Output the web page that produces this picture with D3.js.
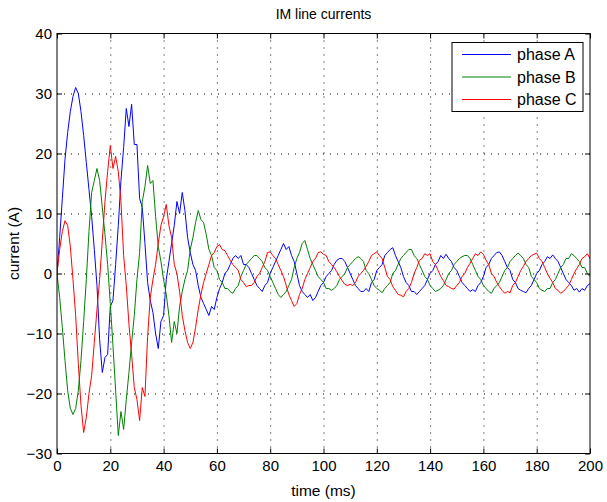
<!DOCTYPE html>
<html>
<head>
<meta charset="utf-8">
<script src="https://cdn.jsdelivr.net/npm/d3@7/dist/d3.min.js"></script>
<style>
  body { margin: 0; background: #fff; }
  svg { display: block; font-family: "Liberation Sans", Arial, Helvetica, sans-serif; }
  .grid line { stroke: #000; stroke-dasharray: 1,6; stroke-width: 1; }
  .line { fill: none; stroke-width: 1; }
</style>
</head>
<body>
<svg id="chart" width="607" height="502"></svg>
<script>
// sample times (ms), one reading per millisecond
const timeMs = d3.range(0, 201);

const phaseA = [
  0, 6, 12.5, 19, 23.5, 27, 29.5, 31, 30, 27,
  23, 18.5, 14, 9.5, 4, -2, -11, -16.5, -14, -13.5,
  -5.5, -4.5, 1.5, 8, 15.5, 21, 27.5, 24.5, 28.2, 21.5,
  21.5, 12.5, 11, 5, -1.5, -4.5, -6.5, -10, -12.5, -8,
  -7, -1, 2, 5, 8, 12, 10, 13.5, 10.5, 6,
  3.5, 1.5, 0.5, -2, -4, -5, -6, -7, -5.5, -6,
  -4, -2.5, -1.5, 0, 0.5, 1.5, 2.5, 3, 2.5, 3,
  1.5, 1.5, 1, 0, -1, -2, -2.5, -3, -2, -1.5,
  0, 1, 2, 3, 4, 5, 4, 4.5, 3, 2,
  0, -2, -3, -3.5, -4, -3.5, -4.5, -4, -3, -2,
  -1.5, -0.5, 0, 0.5, 1.5, 2.2, 2.5, 2.5, 2, 1,
  0, -1, -2, -2.5, -3, -3, -2.5, -3, -1.5, -1,
  0.5, 1, 1.5, 3, 3.5, 4, 4.3, 3, 2, 1,
  -0.5, -1.5, -2, -3, -3, -3.5, -3, -2.5, -2, -1,
  0, 0.5, 1.5, 2, 3, 2.5, 3.2, 2.5, 2, 1,
  0.5, -0.5, -1.5, -2, -2.5, -3, -2.7, -3, -2, -1.5,
  -0.5, 1, 1.5, 2.5, 3, 3.5, 3.6, 3, 2, 1,
  0.5, -1, -1.5, -2.5, -2.8, -3, -3.2, -2.5, -2, -1,
  0, 0.5, 1.5, 2, 2.8, 2.5, 3.1, 2.5, 2, 1,
  0, -1, -1.5, -2, -2.8, -2.5, -3.1, -2.5, -2.8, -2,
  -1.7
];

const phaseB = [
  0, -4, -9, -14.5, -19.5, -22.5, -23.5, -22.5, -19.5, -14.5,
  -8, -1, 7, 13.5, 15.5, 17.5, 15.5, 11, 6.5, 1.5,
  -5, -12, -19.5, -27, -23, -26, -21, -16.5, -11.5, -7,
  -1, 3.5, 12, 14.5, 18, 15, 15.5, 9.5, 4.5, 2,
  -1, -3.5, -7, -11.5, -8, -10, -5.5, -3, -1, 0.5,
  4, 6, 8.5, 10.5, 9, 8.5, 6.5, 4, 3, 1,
  0.5, -1, -1.5, -2.5, -2.5, -3, -3.3, -2.5, -2, -0.5,
  0.5, 1.5, 2, 2.5, 3, 3, 2.5, 2, 1, 0.5,
  -0.5, -1.5, -2.5, -3.5, -4, -3.5, -3, -2, -1, 1,
  2.5, 3.5, 5, 5.5, 4, 2.5, 1.5, 0.5, -0.5, -1,
  -1.5, -2.5, -2.5, -2.8, -2.5, -2, -1, -0.5, 0, 1,
  1.5, 2, 2.5, 2.8, 2.5, 2, 0.5, 0, -1, -2,
  -2.5, -2.8, -3.2, -2.5, -2, -1.5, 0, 0.5, 1.5, 2.5,
  3, 3.5, 4, 4, 3, 2.5, 1.5, 0.5, -0.5, -1,
  -2, -2.5, -3, -2.8, -2.5, -2, -1, 0, 0.5, 1.5,
  2, 2.5, 2.8, 3, 3, 2.5, 1.5, 0.5, -0.5, -1,
  -2, -2.5, -3, -3.3, -2.5, -2, -1.5, -0.5, 0.5, 1,
  2, 2.5, 3, 3.4, 3, 2.5, 1.5, 1, -0.5, -1,
  -1.5, -2.5, -2.8, -3, -2.5, -2.5, -1.5, -1, 0, 1,
  1.5, 2.5, 2.5, 3.3, 3, 2.5, 2, 1, 1, 0,
  -0.5
];

const phaseC = [
  0, 4, 7, 8.8, 8, 4.5, -1, -7, -15, -22,
  -26.5, -24, -20, -17, -11.5, -6, -1, 5.5, 12, 17,
  21.3, 17.5, 19.5, 17, 12, 3, -2, -8.5, -13.5, -19,
  -21, -24.5, -19, -20.5, -10.5, -4, -1, 1.5, 5, 8,
  9.5, 11.5, 8, 6, 1.5, 0, -3, -7, -9.5, -11.5,
  -12.5, -11.5, -9, -6, -3.5, -1.5, 0, 1.5, 3, 3.5,
  4.5, 4.8, 4, 3.8, 3, 2.2, 1.5, 1, 0.5, -1,
  -1.5, -2.2, -2, -2, -1.5, -0.5, 0, 1, 2, 3.5,
  3.6, 3, 2.5, 1.5, 0.5, -0.5, -2, -3.5, -4.5, -5.5,
  -5, -3.5, -2.5, -1, 0, 1, 2, 2.5, 3.5, 3.6,
  3.2, 3, 2, 1.5, 1, 0.3, -0.5, -1.2, -1.8, -2,
  -1.8, -2, -1.5, -0.5, 0, 0.5, 1.2, 2, 3, 3.3,
  3.6, 3, 2.5, 1, -0.5, -1, -2.2, -2.8, -3.5, -3.6,
  -3.9, -3, -2.5, -1.5, 0, 1, 2.2, 2.5, 3.3, 3,
  3.3, 2, 1.5, 0.5, -0.5, -1.2, -2, -2.2, -2.5, -2.6,
  -2, -1.5, -0.5, 0, 1, 1.7, 2.5, 3.3, 3, 3.6,
  3.2, 2.2, 1.5, 0, -0.5, -1.5, -2.2, -2.8, -3.3, -3,
  -3.2, -2, -1.5, -0.5, 0.5, 1.2, 2, 2.5, 3, 3.2,
  3.4, 2.5, 2, 1, 0, -0.8, -1.5, -2.5, -2.8, -3.3,
  -3, -2.5, -2, -1, 0, 0.8, 1.5, 2.5, 2.8, 3.3,
  2.5
];

const seriesNames = ["phase A", "phase B", "phase C"];
const seriesColours = ["#0000ff", "#008000", "#ff0000"];
const xTicks = [0, 20, 40, 60, 80, 100, 120, 140, 160, 180, 200];
const yTicks = [-30, -20, -10, 0, 10, 20, 30, 40];

const margin = { top: 33.5, right: 17, bottom: 48.5, left: 57 },
  width = 607 - margin.left - margin.right,
  height = 502 - margin.top - margin.bottom;

const svg = d3.select("#chart");
const graph = svg.append("g")
  .attr("transform", `translate(${margin.left}, ${margin.top})`);

const x = d3.scaleLinear().domain([0, 200]).range([0, width]);
const y = d3.scaleLinear().domain([-30, 40]).range([height, 0]);

// dotted grid
graph.append("g")
  .attr("class", "grid")
  .selectAll("line")
  .data(xTicks.slice(1, -1))
  .join("line")
  .attr("x1", d => x(d) + 0.5).attr("x2", d => x(d) + 0.5)
  .attr("y1", 0).attr("y2", height);

graph.append("g")
  .attr("class", "grid")
  .selectAll("line")
  .data(yTicks.slice(1, -1))
  .join("line")
  .attr("x1", 0).attr("x2", width)
  .attr("y1", d => Math.round(y(d)) + 0.5).attr("y2", d => Math.round(y(d)) + 0.5);

const data = [phaseA, phaseB, phaseC];

graph.append("clipPath").attr("id", "plotClip")
  .append("rect").attr("width", width).attr("height", height);

const valueLine = d3.line()
  .x((d, i) => x(timeMs[i]))
  .y(d => y(d));

data.forEach((vals, i) => {
  graph.append("path")
    .datum(vals)
    .attr("class", "line")
    .attr("clip-path", "url(#plotClip)")
    .attr("stroke", seriesColours[i])
    .attr("d", valueLine);
});

// axes, ticks pointing inward like matlab
const styleAxis = g => {
  g.select(".domain").remove();
  g.selectAll("line").attr("stroke", "#000");
  g.selectAll("text").attr("font-size", 15).attr("fill", "#000")
    .attr("font-family", '"Liberation Sans", Arial, sans-serif');
};

graph.append("g")
  .attr("transform", `translate(0, ${height})`)
  .call(d3.axisBottom(x).tickValues(xTicks).tickSize(-5).tickPadding(7))
  .call(styleAxis);

graph.append("g")
  .call(d3.axisTop(x).tickValues(xTicks).tickSize(-5).tickFormat(""))
  .call(styleAxis);

graph.append("g")
  .call(d3.axisLeft(y).tickValues(yTicks).tickSize(-5).tickPadding(5))
  .call(styleAxis);

graph.append("g")
  .attr("transform", `translate(${width}, 0)`)
  .call(d3.axisRight(y).tickValues(yTicks).tickSize(-5).tickFormat(""))
  .call(styleAxis);

graph.append("rect")
  .attr("width", width).attr("height", height)
  .attr("fill", "none").attr("stroke", "#000").attr("stroke-width", 1);

// labels
svg.append("text")
  .attr("x", margin.left + width / 2).attr("y", 19)
  .attr("text-anchor", "middle").attr("font-size", 14)
  .text("IM line currents");

svg.append("text")
  .attr("x", margin.left + width / 2).attr("y", 496)
  .attr("text-anchor", "middle").attr("font-size", 15.5)
  .text("time (ms)");

svg.append("text")
  .attr("transform", `translate(19, ${margin.top + height / 2}) rotate(-90)`)
  .attr("text-anchor", "middle").attr("font-size", 15.5)
  .text("current (A)");

// legend
const legend = graph.append("g")
  .attr("transform", `translate(${width - 138}, 9)`);

legend.append("rect")
  .attr("width", 131).attr("height", 69)
  .attr("fill", "#fff").attr("stroke", "#000").attr("stroke-width", 1);

seriesNames.forEach((name, i) => {
  const row = legend.append("g").attr("transform", `translate(0, ${12 + i * 22.5})`);
  row.append("line")
    .attr("x1", 10).attr("x2", 59)
    .attr("stroke", seriesColours[i]).attr("stroke-width", 1);
  row.append("text")
    .attr("x", 65).attr("dy", "0.35em").attr("font-size", 16)
    .text(name);
});
</script>
</body>
</html>
